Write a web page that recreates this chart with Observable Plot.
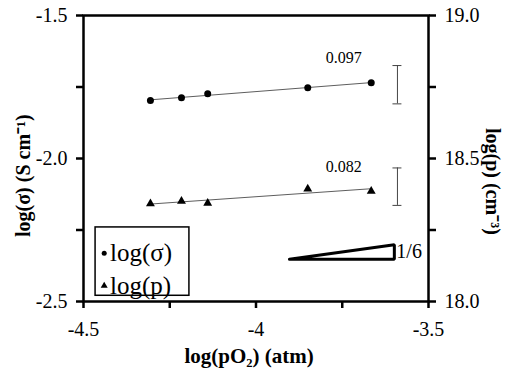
<!DOCTYPE html>
<html>
<head>
<meta charset="utf-8">
<script src="https://cdn.jsdelivr.net/npm/d3@7"></script>
<script src="https://cdn.jsdelivr.net/npm/@observablehq/plot@0.6"></script>
<style>
  body { margin: 0; background: #fff; }
  svg { display: block; }
  #chart svg, #chart svg text { font-family: "Liberation Serif", "Times New Roman", serif !important; }
</style>
</head>
<body>
<div id="chart"></div>
<script>
// Conductivity and hole concentration vs oxygen partial pressure
const logPO2 = [-4.306, -4.216, -4.14, -3.85, -3.666];
const logSigma = [-1.797, -1.788, -1.774, -1.753, -1.735];
const logP = [18.342, 18.351, 18.344, 18.394, 18.386];
const slopeLabels = ["0.097", "0.082"];
const sigmaErrorBar = [-1.809, -1.675];
const pErrorBar = [18.336, 18.467];
const legendLabels = ["log(σ)", "log(p)"];
const slopeText = "1/6";

const xTicks = [-4.5, -4.25, -4, -3.75, -3.5];
const xTickLabels = ["-4.5", "", "-4", "", "-3.5"];
const sigmaTicks = [-1.5, -1.75, -2.0, -2.25, -2.5];
const sigmaTickLabels = ["-1.5", "", "-2.0", "", "-2.5"];
const pTicks = [19.0, 18.75, 18.5, 18.25, 18.0];
const pTickLabels = ["19.0", "", "18.5", "", "18.0"];

// log(p) 18..19 shares the vertical scale with log(σ) -2.5..-1.5
const pToSigma = d3.scaleLinear([18, 19], [-2.5, -1.5]);

const sigmaRows = logPO2.map((x, i) => ({x, y: logSigma[i]}));
const pRows = logPO2.map((x, i) => ({x, y: pToSigma(logP[i])}));

const lookup = (ticks, labels) => d => labels[ticks.findIndex(t => Math.abs(t - d) < 1e-9)] ?? "";
const pTickPos = pTicks.map(pToSigma);

// error bars to the right of the data
const errX = -3.59, cap = 0.013;
const errRows = [
  {y1: sigmaErrorBar[0], y2: sigmaErrorBar[1]},
  {y1: pToSigma(pErrorBar[0]), y2: pToSigma(pErrorBar[1])}
];
const capRows = errRows.flatMap(d => [d.y1, d.y2]);

// slope guide triangle (rise = run / 6)
const run = 0.304, x0 = -3.903, yBase = -2.352;
const guide = [
  {x: x0, y: yBase},
  {x: x0 + run, y: yBase + run / 6},
  {x: x0 + run, y: yBase},
  {x: x0, y: yBase}
];

const font = '"Liberation Serif", "Times New Roman", serif';
const t = (o) => ({fontFamily: font, ...o});

const chart = Plot.plot({
  width: 506,
  height: 373,
  marginLeft: 83,
  marginRight: 78,
  marginTop: 15,
  marginBottom: 72,
  style: {fontFamily: font, color: "black", background: "white"},
  x: {domain: [-4.5, -3.5]},
  y: {domain: [-2.5, -1.5]},
  marks: [
    Plot.axisX(t({ticks: xTicks, tickFormat: lookup(xTicks, xTickLabels), tickSize: 7, tickPadding: 13,
      strokeWidth: 2.5, fontSize: 20, label: null})),
    Plot.axisY(t({anchor: "left", ticks: sigmaTicks, tickFormat: lookup(sigmaTicks, sigmaTickLabels),
      tickSize: 7, tickPadding: 9, strokeWidth: 2.5, fontSize: 20, label: null})),
    Plot.axisY(t({anchor: "right", ticks: pTickPos, tickFormat: lookup(pTickPos, pTickLabels),
      tickSize: 7, tickPadding: 9, strokeWidth: 2.5, fontSize: 20, label: null})),
    Plot.frame({stroke: "black", strokeWidth: 2.5}),

    // fits
    Plot.linearRegressionY(sigmaRows, {x: "x", y: "y", ci: 0, stroke: "#333", strokeWidth: 0.8}),
    Plot.linearRegressionY(pRows, {x: "x", y: "y", ci: 0, stroke: "#333", strokeWidth: 0.8}),

    // measurements
    Plot.dot(sigmaRows, {x: "x", y: "y", r: 3.5, fill: "black", stroke: "none"}),
    Plot.dot(pRows, {x: "x", y: "y", symbol: "triangle", r: 3.3, fill: "black", stroke: "none"}),

    // error bars
    Plot.ruleX(errRows, {x: () => errX, y1: "y1", y2: "y2", stroke: "#444", strokeWidth: 1}),
    Plot.ruleY(capRows, {y: d => d, x1: errX - cap, x2: errX + cap, stroke: "#444", strokeWidth: 1}),

    // slope annotations
    Plot.text([slopeLabels[0]], t({x: -3.746, y: -1.647, text: d => d, fontSize: 16})),
    Plot.text([slopeLabels[1]], t({x: -3.746, y: pToSigma(18.469), text: d => d, fontSize: 16})),

    // 1/6 slope guide
    Plot.line(guide, {x: "x", y: "y", stroke: "black", strokeWidth: 3, strokeLinejoin: "miter"}),
    Plot.text([slopeText], t({x: x0 + run, y: yBase + run / 12, text: d => d, textAnchor: "start", dx: 2, fontSize: 20})),

    // legend
    Plot.rect([0], {x1: -4.465, x2: -4.193, y1: -2.241, y2: -2.48, fill: "white", stroke: "black", strokeWidth: 1.5}),
    Plot.dot([0], {x: -4.44, y: -2.331, r: 2.5, fill: "black", stroke: "none"}),
    Plot.dot([0], {x: -4.44, y: -2.445, r: 2.6, symbol: "triangle", fill: "black", stroke: "none"}),
    Plot.text([legendLabels[0]], t({x: -4.423, y: -2.331, text: d => d, textAnchor: "start", fontSize: 25})),
    Plot.text([legendLabels[1]], t({x: -4.423, y: -2.445, text: d => d, textAnchor: "start", fontSize: 25})),

    // axis titles
    Plot.text(["log(pO₂) (atm)"], t({x: -4.02, y: -2.69, text: d => d, fontSize: 21, fontWeight: "bold"})),
    Plot.text(["log(σ) (S cm⁻¹)"], t({x: -4.674, y: -2.06, rotate: -90, text: d => d, fontSize: 20, fontWeight: "bold"})),
    Plot.text(["log(p) (cm⁻³)"], t({x: -3.314, y: -2.08, rotate: 90, text: d => d, fontSize: 20, fontWeight: "bold"}))
  ]
});

document.getElementById("chart").appendChild(chart);
</script>
</body>
</html>
